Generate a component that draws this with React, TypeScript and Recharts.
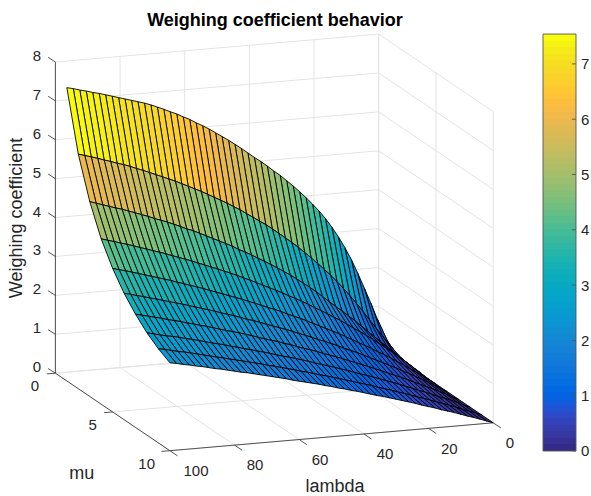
import { ScatterChart, Scatter, XAxis, YAxis } from "recharts"

const lambdaValues = [0, 2, 4, 6, 8, 10, 12, 14, 16, 18, 20, 22, 24, 26, 28, 30, 32, 34, 36, 38, 40, 42, 44, 46, 48, 50, 52, 54, 56, 58, 60, 62, 64, 66, 68, 70, 72, 74, 76, 78, 80, 82, 84, 86, 88, 90, 92, 94, 96, 98, 100]
const muValues = [1, 2, 3, 4, 5, 6, 7, 8, 9, 10]

// weighing coefficient per mu, one value for each lambda
const mu1 = [0, 0.46, 0.91, 1.33, 1.73, 2.12, 2.49, 2.81, 3.1, 3.36, 3.6, 3.81, 4.0, 4.18, 4.35, 4.51, 4.66, 4.81, 4.94, 5.08, 5.21, 5.33, 5.46, 5.59, 5.71, 5.83, 5.94, 6.05, 6.16, 6.26, 6.35, 6.45, 6.53, 6.62, 6.69, 6.77, 6.84, 6.91, 6.97, 7.02, 7.07, 7.12, 7.17, 7.22, 7.27, 7.32, 7.36, 7.41, 7.45, 7.5, 7.54]
const mu2 = [0, 0.24, 0.47, 0.69, 0.91, 1.13, 1.36, 1.58, 1.79, 1.99, 2.18, 2.36, 2.53, 2.69, 2.85, 3.0, 3.15, 3.29, 3.42, 3.55, 3.68, 3.8, 3.91, 4.02, 4.13, 4.24, 4.34, 4.44, 4.53, 4.62, 4.71, 4.8, 4.88, 4.96, 5.04, 5.12, 5.19, 5.26, 5.33, 5.4, 5.47, 5.53, 5.6, 5.66, 5.71, 5.77, 5.82, 5.88, 5.93, 5.98, 6.03]
const mu3 = [0, 0.16, 0.32, 0.46, 0.61, 0.76, 0.91, 1.06, 1.21, 1.36, 1.5, 1.64, 1.77, 1.91, 2.05, 2.19, 2.32, 2.44, 2.56, 2.68, 2.78, 2.89, 2.99, 3.09, 3.18, 3.28, 3.37, 3.45, 3.55, 3.63, 3.71, 3.79, 3.87, 3.95, 4.03, 4.09, 4.17, 4.24, 4.31, 4.37, 4.43, 4.5, 4.56, 4.62, 4.68, 4.74, 4.79, 4.84, 4.9, 4.95, 5.01]
const mu4 = [0, 0.15, 0.29, 0.43, 0.56, 0.69, 0.82, 0.94, 1.06, 1.18, 1.29, 1.4, 1.51, 1.62, 1.72, 1.82, 1.92, 2.01, 2.11, 2.2, 2.29, 2.37, 2.46, 2.54, 2.62, 2.7, 2.78, 2.86, 2.93, 3.01, 3.08, 3.15, 3.22, 3.28, 3.35, 3.41, 3.48, 3.54, 3.6, 3.66, 3.72, 3.78, 3.83, 3.89, 3.94, 4.0, 4.05, 4.1, 4.15, 4.2, 4.25]
const mu5 = [0, 0.12, 0.23, 0.34, 0.45, 0.56, 0.66, 0.77, 0.87, 0.96, 1.06, 1.15, 1.24, 1.33, 1.42, 1.51, 1.59, 1.67, 1.75, 1.83, 1.91, 1.99, 2.06, 2.13, 2.21, 2.28, 2.34, 2.41, 2.48, 2.54, 2.61, 2.67, 2.73, 2.79, 2.85, 2.91, 2.97, 3.03, 3.08, 3.14, 3.19, 3.25, 3.3, 3.35, 3.4, 3.45, 3.5, 3.55, 3.6, 3.64, 3.69]
const mu6 = [0, 0.1, 0.19, 0.29, 0.38, 0.47, 0.56, 0.64, 0.73, 0.81, 0.89, 0.97, 1.05, 1.13, 1.21, 1.28, 1.35, 1.43, 1.5, 1.57, 1.63, 1.7, 1.77, 1.83, 1.9, 1.96, 2.02, 2.08, 2.14, 2.2, 2.26, 2.31, 2.37, 2.43, 2.48, 2.53, 2.59, 2.64, 2.69, 2.74, 2.79, 2.84, 2.89, 2.93, 2.98, 3.03, 3.07, 3.12, 3.16, 3.21, 3.25]
const mu7 = [0, 0.08, 0.17, 0.25, 0.33, 0.4, 0.48, 0.55, 0.63, 0.7, 0.77, 0.84, 0.91, 0.98, 1.05, 1.11, 1.18, 1.24, 1.31, 1.37, 1.43, 1.49, 1.55, 1.61, 1.66, 1.72, 1.78, 1.83, 1.89, 1.94, 1.99, 2.04, 2.1, 2.15, 2.2, 2.25, 2.29, 2.34, 2.39, 2.44, 2.48, 2.53, 2.57, 2.62, 2.66, 2.7, 2.75, 2.79, 2.83, 2.87, 2.91]
const mu8 = [0, 0.07, 0.15, 0.22, 0.29, 0.35, 0.42, 0.49, 0.55, 0.62, 0.68, 0.75, 0.81, 0.87, 0.93, 0.99, 1.05, 1.1, 1.16, 1.22, 1.27, 1.33, 1.38, 1.43, 1.48, 1.54, 1.59, 1.64, 1.69, 1.73, 1.78, 1.83, 1.88, 1.92, 1.97, 2.01, 2.06, 2.1, 2.15, 2.19, 2.23, 2.27, 2.32, 2.36, 2.4, 2.44, 2.48, 2.51, 2.55, 2.59, 2.63]
const mu9 = [0, 0.07, 0.13, 0.19, 0.26, 0.32, 0.38, 0.44, 0.5, 0.56, 0.61, 0.67, 0.73, 0.78, 0.84, 0.89, 0.94, 1.0, 1.05, 1.1, 1.15, 1.2, 1.25, 1.3, 1.35, 1.39, 1.44, 1.49, 1.53, 1.58, 1.62, 1.67, 1.71, 1.75, 1.8, 1.84, 1.88, 1.92, 1.96, 2.0, 2.04, 2.08, 2.12, 2.16, 2.2, 2.24, 2.28, 2.31, 2.35, 2.39, 2.42]
const mu10 = [0, 0.06, 0.12, 0.18, 0.23, 0.29, 0.35, 0.4, 0.45, 0.51, 0.56, 0.61, 0.67, 0.72, 0.77, 0.82, 0.87, 0.92, 0.96, 1.01, 1.06, 1.11, 1.15, 1.2, 1.24, 1.29, 1.33, 1.38, 1.42, 1.46, 1.5, 1.54, 1.59, 1.63, 1.67, 1.71, 1.75, 1.79, 1.83, 1.86, 1.9, 1.94, 1.98, 2.01, 2.05, 2.09, 2.12, 2.16, 2.19, 2.23, 2.26]
const rows = [mu1, mu2, mu3, mu4, mu5, mu6, mu7, mu8, mu9, mu10]

const lambdaTicks = [0, 20, 40, 60, 80, 100]
const muTicks = [0, 5, 10]
const zTicks = [0, 1, 2, 3, 4, 5, 6, 7, 8]
const colorbarTicks = [0, 1, 2, 3, 4, 5, 6, 7]
const zMax = 7.54

const parula = [
  [0.2081, 0.1663, 0.5292], [0.2116, 0.1898, 0.5777], [0.2123, 0.2138, 0.627], [0.2081, 0.2386, 0.6771],
  [0.1959, 0.2645, 0.7279], [0.1707, 0.2919, 0.7792], [0.1253, 0.3242, 0.8303], [0.0591, 0.3598, 0.8683],
  [0.0117, 0.3875, 0.882], [0.006, 0.4086, 0.8828], [0.0165, 0.4266, 0.8786], [0.0329, 0.443, 0.872],
  [0.0498, 0.4586, 0.8641], [0.0629, 0.4737, 0.8554], [0.0723, 0.4887, 0.8467], [0.0779, 0.504, 0.8384],
  [0.0793, 0.52, 0.8312], [0.0749, 0.5375, 0.8263], [0.0641, 0.557, 0.824], [0.0488, 0.5772, 0.8228],
  [0.0343, 0.5966, 0.8199], [0.0265, 0.6137, 0.8135], [0.0239, 0.6287, 0.8038], [0.0231, 0.6418, 0.7913],
  [0.0228, 0.6535, 0.7768], [0.0267, 0.6642, 0.7607], [0.0384, 0.6743, 0.7436], [0.059, 0.6838, 0.7254],
  [0.0843, 0.6928, 0.7062], [0.1133, 0.7015, 0.6859], [0.1453, 0.7098, 0.6646], [0.1801, 0.7177, 0.6424],
  [0.2178, 0.725, 0.6193], [0.2586, 0.7317, 0.5954], [0.3022, 0.7376, 0.5712], [0.3482, 0.7424, 0.5473],
  [0.3953, 0.7459, 0.5244], [0.442, 0.7481, 0.5033], [0.4871, 0.7491, 0.484], [0.53, 0.7491, 0.4661],
  [0.5709, 0.7485, 0.4494], [0.6099, 0.7473, 0.4337], [0.6473, 0.7456, 0.4188], [0.6834, 0.7435, 0.4044],
  [0.7184, 0.7411, 0.3905], [0.7525, 0.7384, 0.3768], [0.7858, 0.7356, 0.3633], [0.8185, 0.7327, 0.3498],
  [0.8507, 0.7299, 0.336], [0.8824, 0.7274, 0.3217], [0.9139, 0.7258, 0.3063], [0.945, 0.7261, 0.2886],
  [0.9739, 0.7314, 0.2666], [0.9938, 0.7455, 0.2403], [0.999, 0.7653, 0.2164], [0.9955, 0.7861, 0.1967],
  [0.988, 0.8066, 0.1794], [0.9789, 0.8271, 0.1633], [0.9697, 0.8481, 0.1475], [0.9626, 0.8705, 0.1309],
  [0.9589, 0.8949, 0.1132], [0.9598, 0.9218, 0.0948], [0.9661, 0.9514, 0.0755], [0.9763, 0.9831, 0.0538],
]

const toRgb = (c: number[]) => `rgb(${c.map((v) => Math.round(v * 255)).join(",")})`
const colorFor = (z: number) => {
  const i = Math.min(63, Math.floor((z / zMax) * 64))
  return toRgb(parula[i])
}

// orthographic view of the 3d box, MATLAB style
const project = (lambda: number, mu: number, z: number) => ({
  px: 378.7 + 11.45 * mu - 3.233 * lambda,
  py: 345.3 + 7.75 * mu + 0.279 * lambda - 38.9 * z,
})
const colorbarY = (v: number) => 451 - 55.3 * v
const CB_LEFT = 543
const CB_RIGHT = 576

// surface cells, far corner first so that the near cells paint on top
const cellColors: string[] = []
const surfaceCorners: { px: number; py: number }[] = []
for (let j = 0; j < muValues.length - 1; j++) {
  for (let i = 0; i < lambdaValues.length - 1; i++) {
    cellColors.push(colorFor(rows[j][i]))
    surfaceCorners.push(
      project(lambdaValues[i], muValues[j], rows[j][i]),
      project(lambdaValues[i + 1], muValues[j], rows[j][i + 1]),
      project(lambdaValues[i + 1], muValues[j + 1], rows[j + 1][i + 1]),
      project(lambdaValues[i], muValues[j + 1], rows[j + 1][i]),
    )
  }
}

const colorbarColors = parula.map(toRgb)
const colorbarCorners: { px: number; py: number }[] = []
parula.forEach((_, i) => {
  const lo = (i / 64) * zMax
  const hi = ((i + 1) / 64) * zMax
  colorbarCorners.push(
    { px: CB_LEFT, py: colorbarY(lo) },
    { px: CB_RIGHT, py: colorbarY(lo) },
    { px: CB_RIGHT, py: colorbarY(hi) },
    { px: CB_LEFT, py: colorbarY(hi) },
  )
})

// grid lines, two points per segment
const gridPoints: { px: number; py: number }[] = []
const gridLine = (a: number[], b: number[]) => {
  gridPoints.push(project(a[0], a[1], a[2]), project(b[0], b[1], b[2]))
}
lambdaTicks.forEach((l) => {
  gridLine([l, 0, 0], [l, 10, 0])
  gridLine([l, 0, 0], [l, 0, 8])
})
muTicks.forEach((m) => {
  gridLine([0, m, 0], [100, m, 0])
  gridLine([0, m, 0], [0, m, 8])
})
zTicks.forEach((z) => {
  gridLine([0, 0, z], [100, 0, z])
  gridLine([0, 0, z], [0, 10, z])
})

// axis lines and tick marks
const axisPoints: { px: number; py: number }[] = []
const axisLine = (a: number[], b: number[]) => {
  axisPoints.push(project(a[0], a[1], a[2]), project(b[0], b[1], b[2]))
}
axisLine([100, 0, 0], [100, 0, 8])
axisLine([100, 0, 0], [100, 10, 0])
axisLine([100, 10, 0], [0, 10, 0])
const addTick = (from: { px: number; py: number }, dx: number, dy: number) => {
  axisPoints.push(from, { px: from.px + dx, py: from.py + dy })
}
zTicks.forEach((z) => addTick(project(100, 0, z), -7.3, -4.7))
muTicks.forEach((m) => addTick(project(100, m, 0), -8.5, 0.7))
lambdaTicks.forEach((l) => addTick(project(l, 10, 0), 7.6, 5.1))

const colorbarFrame: { px: number; py: number }[] = [
  { px: CB_LEFT, py: colorbarY(0) }, { px: CB_RIGHT, py: colorbarY(0) },
  { px: CB_RIGHT, py: colorbarY(0) }, { px: CB_RIGHT, py: colorbarY(zMax) },
  { px: CB_RIGHT, py: colorbarY(zMax) }, { px: CB_LEFT, py: colorbarY(zMax) },
  { px: CB_LEFT, py: colorbarY(zMax) }, { px: CB_LEFT, py: colorbarY(0) },
]
colorbarTicks.forEach((v) => {
  colorbarFrame.push({ px: CB_RIGHT, py: colorbarY(v) }, { px: CB_RIGHT - 4, py: colorbarY(v) })
})

type TextPoint = { px: number; py: number; text: string; size: number; anchor?: string; bold?: boolean; rotate?: number }
const lambdaLabelPos: Record<number, number[]> = { 0: [510, 442.7], 20: [449.3, 449], 40: [385, 454], 60: [320, 459.3], 80: [255, 465], 100: [196, 470.7] }
const muLabelPos: Record<number, number[]> = { 0: [35, 386], 5: [92.7, 424.7], 10: [146.7, 464] }
const texts: TextPoint[] = [
  { px: 275, py: 20, text: "Weighing coefficient behavior", size: 18, bold: true },
  { px: 81.7, py: 473, text: "mu", size: 18 },
  { px: 335, py: 486, text: "lambda", size: 18 },
  { px: 16, py: 218, text: "Weighing coefficient", size: 18, rotate: -90 },
  ...zTicks.map((z) => ({ px: 37, py: 366.7 - 38.9 * z, text: String(z), size: 15 })),
  ...lambdaTicks.map((l) => ({ px: lambdaLabelPos[l][0], py: lambdaLabelPos[l][1], text: String(l), size: 15 })),
  ...muTicks.map((m) => ({ px: muLabelPos[m][0], py: muLabelPos[m][1], text: String(m), size: 15 })),
  ...colorbarTicks.map((v) => ({ px: 581, py: colorbarY(v), text: String(v), size: 15, anchor: "start" })),
]

const noDot = () => <g />

const polygons = (colors: string[], stroke: string, strokeWidth: number, crisp = false) => (props: any) => {
  const pts = props.points
  const out = []
  for (let k = 0; k + 3 < pts.length; k += 4) {
    const quad = pts.slice(k, k + 4).map((p: any) => `${p.x},${p.y}`).join(" ")
    out.push(
      <polygon
        key={k}
        points={quad}
        fill={colors[k / 4]}
        stroke={stroke}
        strokeWidth={strokeWidth}
        strokeLinejoin="round"
        shapeRendering={crisp ? "crispEdges" : undefined}
      />,
    )
  }
  return <g>{out}</g>
}

const segments = (stroke: string, strokeWidth: number) => (props: any) => {
  const pts = props.points
  const out = []
  for (let k = 0; k + 1 < pts.length; k += 2) {
    out.push(<line key={k} x1={pts[k].x} y1={pts[k].y} x2={pts[k + 1].x} y2={pts[k + 1].y} stroke={stroke} strokeWidth={strokeWidth} />)
  }
  return <g>{out}</g>
}

const TextMark = (props: any) => {
  const { cx, cy, payload } = props
  return (
    <text
      x={cx}
      y={cy}
      dy="0.36em"
      textAnchor={payload.anchor ?? "middle"}
      fontFamily="Liberation Sans, Arial, sans-serif"
      fontSize={payload.size}
      fontWeight={payload.bold ? 700 : 400}
      fill={payload.bold ? "#000" : "#262626"}
      transform={payload.rotate ? `rotate(${payload.rotate} ${cx} ${cy})` : undefined}
    >
      {payload.text}
    </text>
  )
}

export default function App() {
  return (
    <div style={{ position: "absolute", left: 0, top: 0, background: "#fff" }}>
      <ScatterChart width={591} height={496} margin={{ top: 0, right: 0, bottom: 0, left: 0 }}>
        <XAxis type="number" dataKey="px" domain={[0, 591]} hide />
        <YAxis type="number" dataKey="py" domain={[0, 496]} reversed hide />
        <Scatter data={gridPoints} line={segments("#e4e4e4", 1)} shape={noDot} isAnimationActive={false} />
        <Scatter data={axisPoints} line={segments("#404040", 0.9)} shape={noDot} isAnimationActive={false} />
        <Scatter data={surfaceCorners} line={polygons(cellColors, "#000", 0.9)} shape={noDot} isAnimationActive={false} />
        <Scatter data={colorbarCorners} line={polygons(colorbarColors, "none", 0, true)} shape={noDot} isAnimationActive={false} />
        <Scatter data={colorbarFrame} line={segments("#555", 0.9)} shape={noDot} isAnimationActive={false} />
        <Scatter data={texts} shape={TextMark} isAnimationActive={false} />
      </ScatterChart>
    </div>
  )
}
